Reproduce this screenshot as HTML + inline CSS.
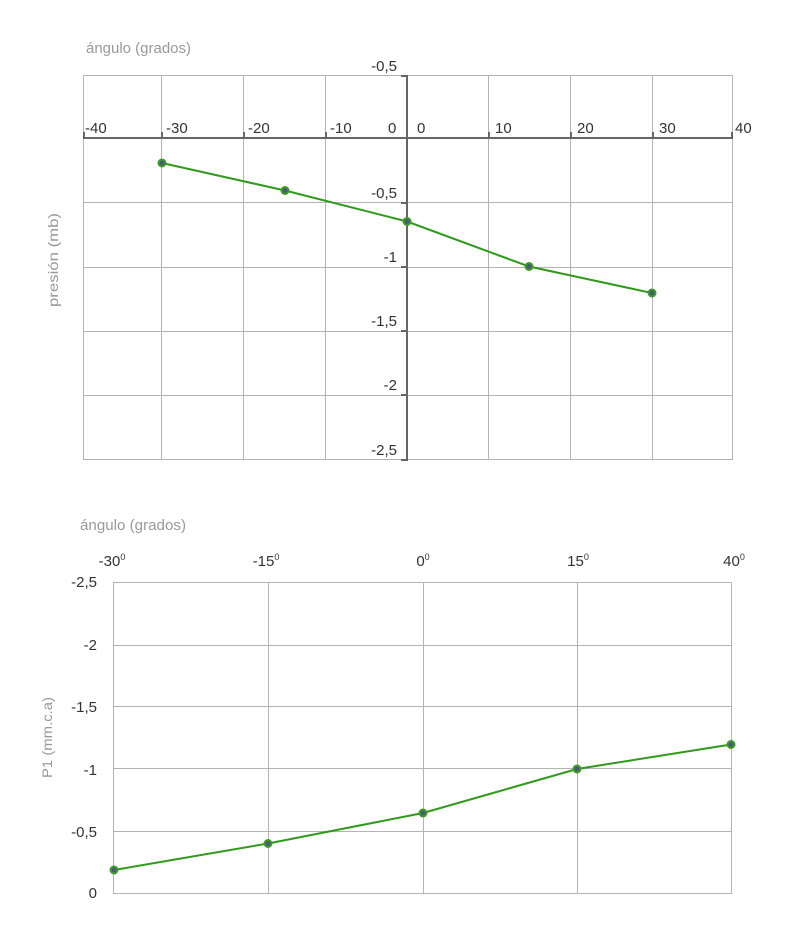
<!DOCTYPE html>
<html><head><meta charset="utf-8"><style>
html,body{margin:0;padding:0;background:#fff;}
svg{display:block;}
text{font-family:"Liberation Sans",sans-serif;}
</style></head><body>
<svg width="800" height="947" viewBox="0 0 800 947" xmlns="http://www.w3.org/2000/svg">
<rect width="800" height="947" fill="#fff"/>
<!-- TOP CHART -->
<g stroke="#b3b3b3" stroke-width="1" fill="none">
  <line x1="83.5" y1="75.5" x2="83.5" y2="459.5"/>
  <line x1="161.5" y1="75.5" x2="161.5" y2="459.5"/>
  <line x1="243.5" y1="75.5" x2="243.5" y2="459.5"/>
  <line x1="325.5" y1="75.5" x2="325.5" y2="459.5"/>
  <line x1="488.5" y1="75.5" x2="488.5" y2="459.5"/>
  <line x1="570.5" y1="75.5" x2="570.5" y2="459.5"/>
  <line x1="652.5" y1="75.5" x2="652.5" y2="459.5"/>
  <line x1="732.5" y1="75.5" x2="732.5" y2="459.5"/>
  <line x1="83" y1="75.5" x2="733" y2="75.5"/>
  <line x1="83" y1="202.5" x2="733" y2="202.5"/>
  <line x1="83" y1="267.5" x2="733" y2="267.5"/>
  <line x1="83" y1="331.5" x2="733" y2="331.5"/>
  <line x1="83" y1="395.5" x2="733" y2="395.5"/>
  <line x1="83" y1="459.5" x2="733" y2="459.5"/>
</g>
<g stroke="#666" stroke-width="2" fill="none">
  <line x1="83" y1="138" x2="733" y2="138"/>
  <line x1="407" y1="75" x2="407" y2="461"/>
  <line x1="84" y1="132" x2="84" y2="139"/>
  <line x1="162" y1="132" x2="162" y2="139"/>
  <line x1="244" y1="132" x2="244" y2="139"/>
  <line x1="326" y1="132" x2="326" y2="139"/>
  <line x1="489" y1="132" x2="489" y2="139"/>
  <line x1="571" y1="132" x2="571" y2="139"/>
  <line x1="653" y1="132" x2="653" y2="139"/>
  <line x1="732" y1="132" x2="732" y2="139"/>
  <line x1="401" y1="76" x2="408" y2="76"/>
  <line x1="401" y1="203" x2="408" y2="203"/>
  <line x1="401" y1="267" x2="408" y2="267"/>
  <line x1="401" y1="331" x2="408" y2="331"/>
  <line x1="401" y1="395" x2="408" y2="395"/>
  <line x1="401" y1="460" x2="408" y2="460"/>
</g>
<g font-size="15" fill="#333">
  <text x="85" y="133">-40</text>
  <text x="166" y="133">-30</text>
  <text x="248" y="133">-20</text>
  <text x="330" y="133">-10</text>
  <text x="388" y="133">0</text>
  <text x="417" y="133">0</text>
  <text x="495" y="133">10</text>
  <text x="577" y="133">20</text>
  <text x="659" y="133">30</text>
  <text x="735" y="133">40</text>
</g>
<g font-size="15" fill="#333" text-anchor="end">
  <text x="397" y="71">-0,5</text>
  <text x="397" y="198">-0,5</text>
  <text x="397" y="262">-1</text>
  <text x="397" y="326">-1,5</text>
  <text x="397" y="390">-2</text>
  <text x="397" y="455">-2,5</text>
</g>
<text x="86" y="53" font-size="15" fill="#999" textLength="105" lengthAdjust="spacingAndGlyphs">ángulo (grados)</text>
<text transform="translate(58,307) rotate(-90)" font-size="14" fill="#999" textLength="94" lengthAdjust="spacingAndGlyphs">presión (mb)</text>
<polyline points="162,163 285,190.5 407,221.5 529,266.5 652,293" fill="none" stroke="#2f9a1c" stroke-width="2"/>
<g fill="#4b5a78" stroke="#3a9e22" stroke-width="2">
  <circle cx="162" cy="163" r="3.5"/>
  <circle cx="285" cy="190.5" r="3.5"/>
  <circle cx="407" cy="221.5" r="3.5"/>
  <circle cx="529" cy="266.5" r="3.5"/>
  <circle cx="652" cy="293" r="3.5"/>
</g>

<!-- BOTTOM CHART -->
<g stroke="#b3b3b3" stroke-width="1" fill="none">
  <line x1="113.5" y1="582" x2="113.5" y2="894"/>
  <line x1="268.5" y1="582" x2="268.5" y2="894"/>
  <line x1="423.5" y1="582" x2="423.5" y2="894"/>
  <line x1="577.5" y1="582" x2="577.5" y2="894"/>
  <line x1="731.5" y1="582" x2="731.5" y2="894"/>
  <line x1="113" y1="582.5" x2="732" y2="582.5"/>
  <line x1="113" y1="645.5" x2="732" y2="645.5"/>
  <line x1="113" y1="706.5" x2="732" y2="706.5"/>
  <line x1="113" y1="768.5" x2="732" y2="768.5"/>
  <line x1="113" y1="831.5" x2="732" y2="831.5"/>
  <line x1="113" y1="893.5" x2="732" y2="893.5"/>
</g>
<g font-size="15" fill="#333" text-anchor="middle">
  <text x="112" y="566">-30<tspan font-size="9" dy="-6">0</tspan></text>
  <text x="266" y="566">-15<tspan font-size="9" dy="-6">0</tspan></text>
  <text x="423" y="566">0<tspan font-size="9" dy="-6">0</tspan></text>
  <text x="578" y="566">15<tspan font-size="9" dy="-6">0</tspan></text>
  <text x="734" y="566">40<tspan font-size="9" dy="-6">0</tspan></text>
</g>
<g font-size="15" fill="#333" text-anchor="end">
  <text x="97" y="587">-2,5</text>
  <text x="97" y="650">-2</text>
  <text x="97" y="712">-1,5</text>
  <text x="97" y="775">-1</text>
  <text x="97" y="837">-0,5</text>
  <text x="97" y="898">0</text>
</g>
<text x="80" y="530" font-size="15" fill="#999" textLength="106" lengthAdjust="spacingAndGlyphs">ángulo (grados)</text>
<text transform="translate(52,778) rotate(-90)" font-size="14" fill="#999" textLength="81" lengthAdjust="spacingAndGlyphs">P1 (mm.c.a)</text>
<polyline points="114,870 268,843.5 423,813 577,769 731,744.5" fill="none" stroke="#2f9a1c" stroke-width="2"/>
<g fill="#4b5a78" stroke="#3a9e22" stroke-width="2">
  <circle cx="114" cy="870" r="3.5"/>
  <circle cx="268" cy="843.5" r="3.5"/>
  <circle cx="423" cy="813" r="3.5"/>
  <circle cx="577" cy="769" r="3.5"/>
  <circle cx="731" cy="744.5" r="3.5"/>
</g>
</svg>
</body></html>
